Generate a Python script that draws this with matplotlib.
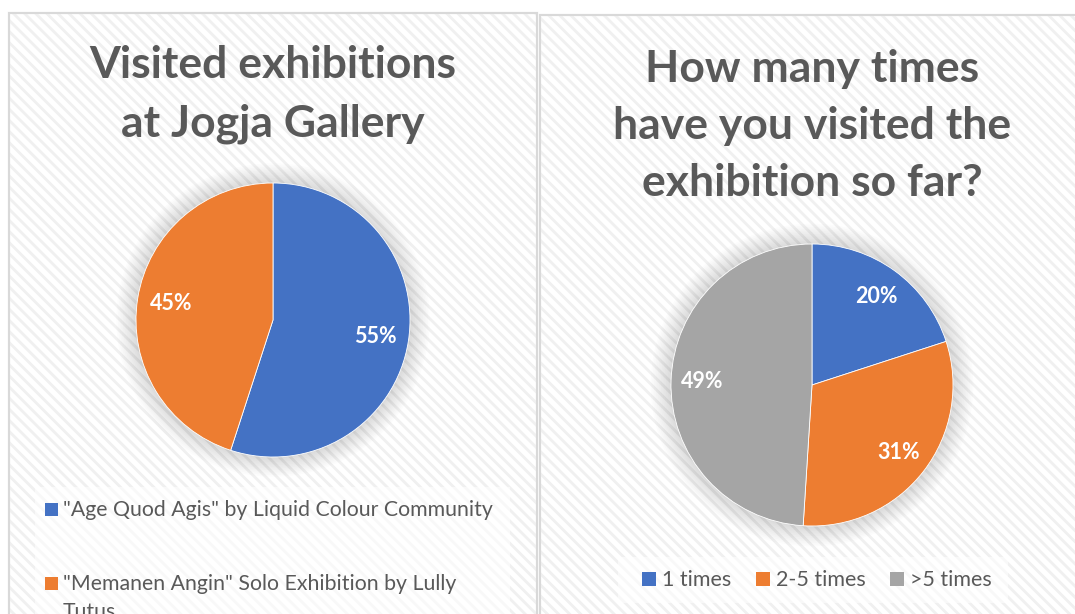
import matplotlib
matplotlib.use("Agg")
import matplotlib.pyplot as plt
from matplotlib.patches import Rectangle, Circle

# ---- data ----
title1 = ["Visited exhibitions", "at Jogja Gallery"]
labels1 = ['"Age Quod Agis" by Liquid Colour Community',
           '"Memanen Angin" Solo Exhibition by Lully Tutus']
values1 = [55, 45]

title2 = ["How many times", "have you visited the", "exhibition so far?"]
labels2 = ["1 times", "2-5 times", ">5 times"]
values2 = [20, 31, 49]

colors = ["#4472C4", "#ED7D31", "#A5A5A5"]
TXT = "#595959"

W, H = 1075, 614
fig = plt.figure(figsize=(W / 100, H / 100), dpi=100)
fig.patch.set_facecolor("white")
plt.rcParams["font.family"] = ["Lato", "DejaVu Sans"]
plt.rcParams["hatch.linewidth"] = 2.0


def fx(x):
    return x / W


def fy(y):
    return 1 - y / H


def panel(x0, y0, x1, y1):
    r = Rectangle((fx(x0), fy(y1)), fx(x1 - x0), (y1 - y0) / H,
                  transform=fig.transFigure, facecolor="white",
                  edgecolor="#d9d9d9", linewidth=1.5, zorder=-3)
    fig.patches.append(r)
    h = Rectangle((fx(x0), fy(y1)), fx(x1 - x0), (y1 - y0) / H,
                  transform=fig.transFigure, facecolor="none",
                  edgecolor="#f0f0f0", hatch="\\\\\\", linewidth=0, zorder=-2)
    fig.patches.append(h)
    b = Rectangle((fx(x0), fy(y1)), fx(x1 - x0), (y1 - y0) / H,
                  transform=fig.transFigure, facecolor="none",
                  edgecolor="#d9d9d9", linewidth=1.5, zorder=-1)
    fig.patches.append(b)


panel(9, 13, 537, 640)
panel(540, 15, 1100, 640)


def pie_axes(cx, cy, r, vals, pct_pos):
    k = 1.25
    ax = fig.add_axes([fx(cx - r * k), fy(cy + r * k), fx(2 * r * k), 2 * r * k / H])
    ax.set_zorder(1)
    ax.patch.set_visible(False)
    ax.set_xlim(-k, k)
    ax.set_ylim(-k, k)
    ax.set_aspect("equal")
    ax.axis("off")
    # soft shadow
    for i in range(12):
        rr = 1.0 + 0.012 * (12 - i)
        ax.add_patch(Circle((0, 0.0), rr, facecolor="#000000", alpha=0.012,
                            edgecolor="none", zorder=0))
    wedges, _, autotexts = ax.pie(
        vals, colors=colors[:len(vals)], startangle=90, counterclock=False,
        autopct="%d%%", pctdistance=pct_pos, radius=1.0,
        wedgeprops=dict(edgecolor="white", linewidth=0.6),
        textprops=dict(color="white", fontsize=15.5, fontweight="bold"))
    for w in wedges:
        w.set_zorder(2)
    for t in autotexts:
        t.set_zorder(3)
    return ax


pie_axes(273, 320, 137, values1, 0.755)
pie_axes(812, 385, 141, values2, 0.78)

# titles
for i, line in enumerate(title1):
    fig.text(fx(273), fy(78 + 59 * i), line, ha="center", va="baseline",
             fontsize=32, fontweight="bold", color=TXT)
for i, line in enumerate(title2):
    fig.text(fx(812), fy(82 + 57 * i), line, ha="center", va="baseline",
             fontsize=32, fontweight="bold", color=TXT)

# legend 1 background
fig.patches.append(Rectangle((fx(35), fy(640)), fx(475), (640 - 487) / H,
                             transform=fig.transFigure, facecolor="white",
                             alpha=0.6, edgecolor="none", zorder=2))
leg1_y = [516, 590]
wrap_at = [None, "Lully"]
for lab, c, y, wa in zip(labels1, colors, leg1_y, wrap_at):
    fig.patches.append(Rectangle((fx(45), fy(y)), fx(13), 13 / H,
                                 transform=fig.transFigure, facecolor=c,
                                 edgecolor="none", zorder=3))
    if wa is None:
        lines = [lab]
    else:
        j = lab.index(wa) + len(wa)
        lines = [lab[:j], lab[j + 1:]]
    for k, ln in enumerate(lines):
        fig.text(fx(63), fy(y + 28 * k), ln, ha="left", va="baseline",
                 fontsize=15.3, color=TXT, zorder=4)

# legend 2
fig.patches.append(Rectangle((fx(618), fy(603)), fx(390), (603 - 557) / H,
                             transform=fig.transFigure, facecolor="white",
                             alpha=0.6, edgecolor="none", zorder=2))
leg2_x = [642, 756, 890]
for lab, c, x in zip(labels2, colors, leg2_x):
    fig.patches.append(Rectangle((fx(x), fy(586)), fx(14), 14 / H,
                                 transform=fig.transFigure, facecolor=c,
                                 edgecolor="none", zorder=3))
    fig.text(fx(x + 20), fy(586), lab, ha="left", va="baseline", fontsize=15.5,
             color=TXT, zorder=4)

fig.savefig("out.png", dpi=100)
